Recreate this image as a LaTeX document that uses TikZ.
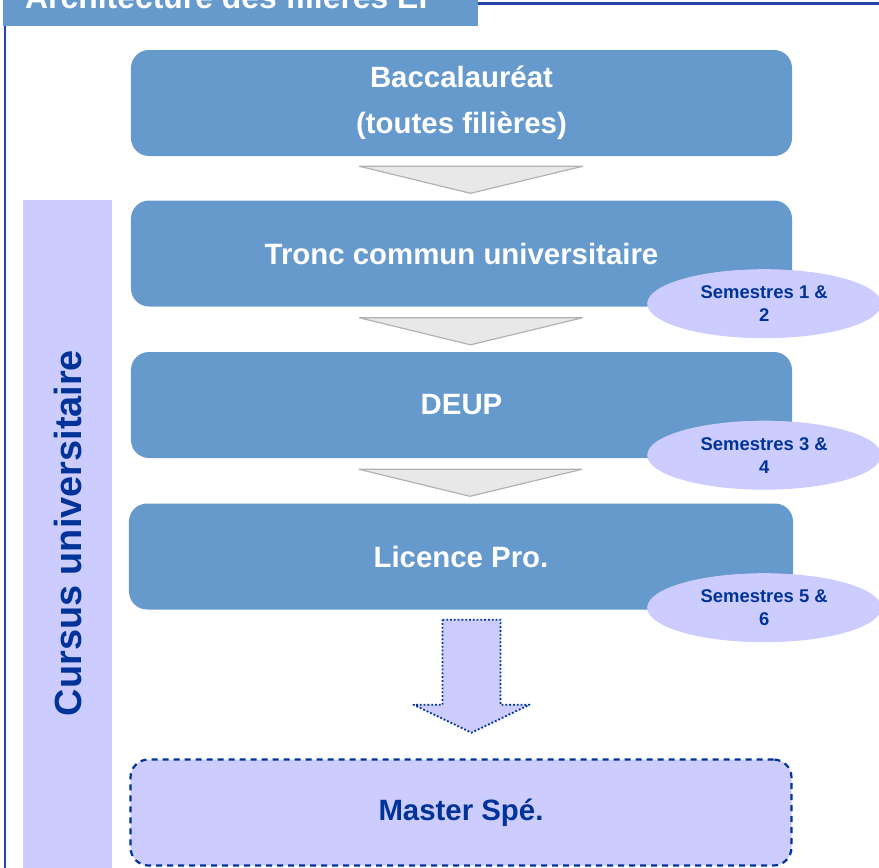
\documentclass[tikz,border=0pt]{standalone}
\usepackage{fontspec}
\setmainfont{Liberation Sans}
\usetikzlibrary{calc,positioning,shapes.geometric}
\definecolor{BoxBlue}{HTML}{6699CC}
\definecolor{Lavender}{HTML}{CCCCFF}
\definecolor{DeepBlue}{HTML}{003399}
\definecolor{FrameBlue}{HTML}{2443A6}
\definecolor{ChevronGray}{HTML}{E8E8E8}

\begin{document}
\begin{tikzpicture}[x=1bp,y=-1bp,line join=round,
  stage/.style={fill=BoxBlue,rounded corners=18bp,minimum width=661bp,minimum height=106bp,
    text=white,font=\bfseries\fontsize{29.5}{46}\selectfont,align=center,inner sep=0pt},
  semester/.style={ellipse,fill=Lavender,minimum width=234bp,minimum height=69bp,inner sep=0pt,
    text=DeepBlue,font=\bfseries\fontsize{18.5}{23}\selectfont,align=center},
  chevron/.style={fill=ChevronGray,draw=black!30,line width=1.2bp},
  bigarrow/.style={fill=Lavender,draw=DeepBlue,line width=1.8bp,dotted},
  target/.style={stage,fill=Lavender,draw=DeepBlue,line width=2.2bp,dash pattern=on 6bp off 5bp,text=DeepBlue}]
  \useasboundingbox (0,0) rectangle (879,868);

  % frame and title tab
  \draw[FrameBlue,line width=2bp] (4.5,900) -- (4.5,3.5) -- (900,3.5);
  \fill[BoxBlue] (3,-20) rectangle (478,26);
  \node[anchor=base west,text=white,font=\bfseries\fontsize{32}{38}\selectfont,inner sep=0pt]
    (titre) at (25,8.5) {Architecture des filières EI};

  % side band
  \fill[Lavender] (23,200) rectangle (112,880);
  \node[rotate=90,text=DeepBlue,font=\bfseries\fontsize{38}{42}\selectfont] (cursus) at (68,533)
    {Cursus universitaire};

  % stages
  \node[stage] (bac) at (461.5,103) {Baccalauréat\\(toutes filières)};
  \node[stage] (tronc) at (461.5,253.5) {Tronc commun universitaire};
  \node[stage] (deup) at (461.5,405) {DEUP};
  \node[stage,minimum width=664bp] (licence) at (461,556.5) {Licence Pro.};
  \node[target] (master) at (461,812.5) {Master Spé.};

  % transitions
  \foreach \a/\b in {bac/tronc,tronc/deup,deup/licence}{
    \coordinate (tip-\b) at ($(\b.north)+(9,-7)$);
    \draw[chevron] ($(tip-\b)+(-111,-27)$) -- ($(tip-\b)+(112,-27)$) -- (tip-\b) -- cycle;
  }

  % semesters
  \node[semester] (s12) at ($(tronc.south east)+(-28,-3)$) {Semestres 1 \&\\2};
  \node[semester] (s34) at ($(deup.south east)+(-28,-3)$) {Semestres 3 \&\\4};
  \node[semester] (s56) at ($(licence.south east)+(-29,-2)$) {Semestres 5 \&\\6};

  % towards the master
  \coordinate (ar) at ($(licence.south)+(10.5,10)$);
  \draw[bigarrow] ($(ar)+(-29,0)$) -- ($(ar)+(29,0)$) -- ($(ar)+(29,85)$) -- ($(ar)+(58,85)$)
    -- ($(ar)+(0,113)$) -- ($(ar)+(-58,85)$) -- ($(ar)+(-29,85)$) -- cycle;
\end{tikzpicture}
\end{document}
